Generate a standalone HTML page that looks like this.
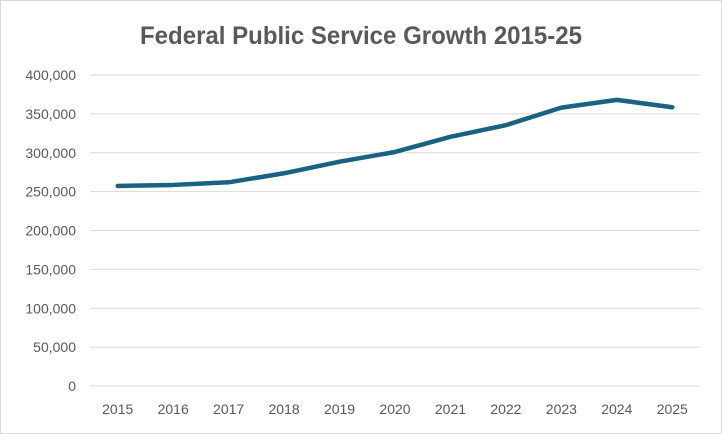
<!DOCTYPE html>
<html><head><meta charset="utf-8"><style>
html,body{margin:0;padding:0;background:#fff;}
svg{display:block;font-family:"Liberation Sans",sans-serif;}
</style></head><body>
<svg id="chart" width="722" height="434" viewBox="0 0 722 434">
<rect x="0.5" y="0.5" width="721" height="433" fill="#fff" stroke="#d9d9d9"/>
<text x="361" y="44" text-anchor="middle" font-size="25" font-weight="bold" fill="#595959" textLength="442" lengthAdjust="spacingAndGlyphs">Federal Public Service Growth 2015-25</text>
<g id="grid"></g><g id="yticks"></g><g id="xticks"></g><g id="series"></g>
</svg>
<script>
const years = ["2015","2016","2017","2018","2019","2020","2021","2022","2023","2024","2025"];
const employees = [257300,258600,262000,273600,288500,301000,320500,335500,358000,368000,358500];
const yTickValues = [0,50000,100000,150000,200000,250000,300000,350000,400000];
const yTickLabels = ["0","50,000","100,000","150,000","200,000","250,000","300,000","350,000","400,000"];

const ns="http://www.w3.org/2000/svg";
const x0=90,x1=700,yBottom=386,yTop=75,yMax=400000;
const band=(x1-x0)/years.length;
function xScale(i){return x0+band*(i+0.5);}
function yScale(v){return yBottom-(v/yMax)*(yBottom-yTop);}
function mk(tag,attrs,parent){const e=document.createElementNS(ns,tag);for(const k in attrs)e.setAttribute(k,attrs[k]);document.getElementById(parent).appendChild(e);return e;}

yTickValues.forEach((v,i)=>{
  const y=yScale(v);
  const l=mk('line',{x1:x0,x2:x1,y1:y,y2:y,stroke:'#d9d9d9','stroke-width':1},'grid');
  
  
  const t=mk('text',{x:76,y:y+5,'text-anchor':'end','font-size':14,fill:'#595959'},'yticks');
  t.textContent=yTickLabels[i];
  
  
});
years.forEach((yr,i)=>{
  const t=mk('text',{x:xScale(i),y:414,'text-anchor':'middle','font-size':14,fill:'#595959'},'xticks');
  t.textContent=yr;
  
  
});
const pts=employees.map((v,i)=>xScale(i)+','+yScale(v)).join(' ');
const pl=mk('polyline',{points:pts,fill:'none',stroke:'#1b6184','stroke-width':4.5,'stroke-linejoin':'round','stroke-linecap':'round'},'series');


</script>
</body></html>
